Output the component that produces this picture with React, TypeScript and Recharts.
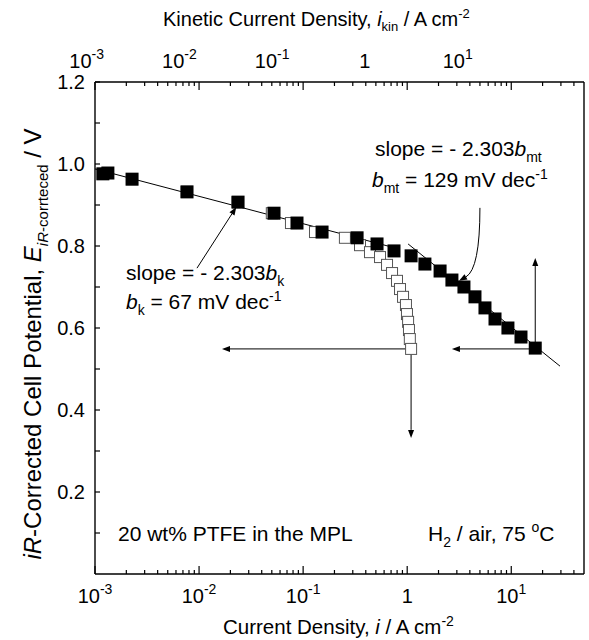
import React from 'react';
import { ComposedChart, Scatter, XAxis, YAxis, ReferenceLine } from 'recharts';

// measured (iR-corrected) polarization points, filled squares
const measuredI = [0.00119, 0.00133, 0.00227, 0.00766, 0.0237, 0.0525, 0.0873, 0.152, 0.33, 0.513, 0.747, 1.09, 1.48, 2.07, 2.69, 3.51, 4.48, 5.59, 6.98, 9.29, 12.4, 17.0];
const measuredE = [0.976, 0.978, 0.963, 0.932, 0.907, 0.88, 0.856, 0.834, 0.82, 0.805, 0.788, 0.776, 0.756, 0.739, 0.717, 0.7, 0.676, 0.649, 0.622, 0.6, 0.578, 0.551];

// kinetic current points, open squares
const kineticI = [0.00119, 0.00133, 0.00227, 0.0076, 0.0234, 0.05, 0.0764, 0.13, 0.252, 0.352, 0.439, 0.548, 0.64, 0.715, 0.798, 0.853, 0.912, 0.973, 0.995, 1.02, 1.04, 1.06, 1.09];
const kineticE = [0.976, 0.978, 0.963, 0.932, 0.907, 0.88, 0.856, 0.834, 0.82, 0.802, 0.785, 0.773, 0.754, 0.734, 0.715, 0.695, 0.676, 0.656, 0.634, 0.615, 0.595, 0.573, 0.549];

// Tafel fit lines
const kFitI = [0.001, 0.8];
const kFitE = [0.988, 0.794];
const mtFitI = [1.02, 29.4];
const mtFitE = [0.805, 0.507];

// arrows [i1, E1, i2, E2]
const arrows = [
  [0.00955, 0.746, 0.0228, 0.895],
  [1.09, 0.549, 0.0166, 0.549],
  [1.09, 0.541, 1.09, 0.332],
  [17.0, 0.549, 2.69, 0.549],
  [17.0, 0.549, 17.0, 0.771],
];
const curvedArrow = [5.0, 0.893, 3.15, 0.715];

const majorX = [0.001, 0.01, 0.1, 1, 10];
const minorX = [0.002, 0.003, 0.004, 0.005, 0.006, 0.007, 0.008, 0.009, 0.02, 0.03, 0.04, 0.05, 0.06, 0.07, 0.08, 0.09, 0.2, 0.3, 0.4, 0.5, 0.6, 0.7, 0.8, 0.9, 2, 3, 4, 5, 6, 7, 8, 9, 20, 30, 40];
const yTicks = [0.1, 0.2, 0.3, 0.4, 0.5, 0.6, 0.7, 0.8, 0.9, 1.0, 1.1, 1.2];

const FONT = "'Liberation Sans', Arial, Helvetica, sans-serif";
const W = 589;
const H = 640;
const LEFT = 95;
const RIGHT = 5;
const TOP = 82;
const BOTTOM = 66;
// top (kinetic) label scale
const KIN_LO = -2.91;
const KIN_DEC = 92.75;

const zip = (xs: number[], ys: number[]) => xs.map((i, k) => ({ i, E: ys[k] }));
const measured = zip(measuredI, measuredE);
const kinetic = zip(kineticI, kineticE);
const kFit = zip(kFitI, kFitE);
const mtFit = zip(mtFitI, mtFitE);
const allX = [...majorX, ...minorX].sort((a, b) => a - b);

const isMajor = (v: number) => majorX.some((m) => Math.abs(m - v) < m * 1e-6);

const PowLabel = ({ x, y, v }: { x: number; y: number; v: number }) => {
  const e = Math.round(Math.log10(v));
  return (
    <text x={x} y={y} textAnchor="middle" fontSize={20} fontFamily={FONT} fill="#000">
      {e === 0 ? '1' : (
        <>
          10<tspan dy={-9} fontSize={14}>{e}</tspan>
        </>
      )}
    </text>
  );
};

const BottomTick = (props: any) => {
  const { x, y, payload } = props;
  const major = isMajor(payload.value);
  return (
    <g>
      <line x1={x} y1={y} x2={x} y2={y - (major ? 8 : 4)} stroke="#000" strokeWidth={1.2} />
      {major && <PowLabel x={x} y={y + 29} v={payload.value} />}
    </g>
  );
};

const TopTick = (props: any) => {
  const { x, y, payload } = props;
  const major = isMajor(payload.value);
  const lx = LEFT + (Math.log10(payload.value) - KIN_LO) * KIN_DEC;
  return (
    <g>
      <line x1={x} y1={y} x2={x} y2={y + (major ? 8 : 4)} stroke="#000" strokeWidth={1.2} />
      {major && <PowLabel x={lx} y={y - 14} v={payload.value} />}
    </g>
  );
};

const arrowHead = (x1: number, y1: number, x2: number, y2: number) => {
  const a = Math.atan2(y2 - y1, x2 - x1);
  const L = 8;
  const w = 3;
  const bx = x2 - L * Math.cos(a);
  const by = y2 - L * Math.sin(a);
  const px = -Math.sin(a) * w;
  const py = Math.cos(a) * w;
  return { bx, by, pts: `${x2},${y2} ${bx + px},${by + py} ${bx - px},${by - py}` };
};

const ArrowShape = (p: any) => {
  const { x1, y1, x2, y2 } = p;
  const h = arrowHead(x1, y1, x2, y2);
  return (
    <g>
      <line x1={x1} y1={y1} x2={h.bx} y2={h.by} stroke="#000" strokeWidth={1} />
      <polygon points={h.pts} fill="#000" />
    </g>
  );
};

const CurvedArrowShape = (p: any) => {
  const { x1, y1, x2, y2 } = p;
  const cx = x1;
  const cy = y2 - 12;
  const h = arrowHead(cx, cy, x2, y2);
  return (
    <g>
      <path d={`M${x1},${y1} Q${cx},${cy} ${h.bx},${h.by}`} fill="none" stroke="#000" strokeWidth={1} />
      <polygon points={h.pts} fill="#000" />
    </g>
  );
};

const FilledSquare = (p: any) => <rect x={p.cx - 6.5} y={p.cy - 6.5} width={13} height={13} fill="#000" />;
const OpenSquare = (p: any) => (
  <rect x={p.cx - 5.5} y={p.cy - 5.5} width={11} height={11} fill="#fff" stroke="#555" strokeWidth={1} />
);
const NoDot = () => <g />;

const Sub = ({ children }: { children: React.ReactNode }) => <tspan dy={6} fontSize={14}>{children}</tspan>;

export default function App() {
  return (
    <div style={{ position: 'absolute', left: 0, top: 0, width: W, height: H, background: '#fff' }}>
      <ComposedChart width={W} height={H} margin={{ top: 0, right: 0, bottom: 0, left: 0 }}>
        <XAxis
          xAxisId={0}
          type="number"
          dataKey="i"
          scale="log"
          domain={[0.001, 50]}
          allowDataOverflow
          ticks={allX}
          interval={0}
          orientation="bottom"
          height={BOTTOM}
          tickLine={false}
          tickSize={0}
          tickMargin={0}
          tick={<BottomTick />}
          axisLine={{ stroke: '#000', strokeWidth: 1.4 }}
        />
        <XAxis
          xAxisId="top"
          type="number"
          dataKey="i"
          scale="log"
          domain={[0.001, 50]}
          allowDataOverflow
          ticks={allX}
          interval={0}
          orientation="top"
          height={TOP}
          tickLine={false}
          tickSize={0}
          tickMargin={0}
          tick={<TopTick />}
          axisLine={{ stroke: '#000', strokeWidth: 1.4 }}
        />
        <YAxis
          yAxisId={0}
          type="number"
          dataKey="E"
          domain={[0, 1.2]}
          allowDataOverflow
          ticks={yTicks}
          interval={0}
          width={LEFT}
          tickSize={-5}
          tickMargin={15}
          tickLine={{ stroke: '#000', strokeWidth: 1.2 }}
          axisLine={{ stroke: '#000', strokeWidth: 1.4 }}
          tick={{ fontSize: 20, fontFamily: FONT, fill: '#000' }}
          tickFormatter={(v: number) => (Math.round(v * 10) % 2 === 0 ? v.toFixed(1) : '')}
        />
        <YAxis
          yAxisId="right"
          orientation="right"
          type="number"
          dataKey="E"
          domain={[0, 1.2]}
          allowDataOverflow
          ticks={yTicks}
          interval={0}
          width={RIGHT}
          tickSize={-5}
          tick={false}
          tickLine={{ stroke: '#000', strokeWidth: 1.2 }}
          axisLine={{ stroke: '#000', strokeWidth: 1.4 }}
        />

        <Scatter data={kFit} line={{ stroke: '#000', strokeWidth: 1 }} shape={<NoDot />} isAnimationActive={false} />
        <Scatter data={mtFit} line={{ stroke: '#000', strokeWidth: 1 }} shape={<NoDot />} isAnimationActive={false} />

        {arrows.map((a, k) => (
          <ReferenceLine
            key={k}
            segment={[{ x: a[0], y: a[1] }, { x: a[2], y: a[3] }]}
            shape={ArrowShape}
            ifOverflow="visible"
          />
        ))}
        <ReferenceLine
          segment={[{ x: curvedArrow[0], y: curvedArrow[1] }, { x: curvedArrow[2], y: curvedArrow[3] }]}
          shape={CurvedArrowShape}
          ifOverflow="visible"
        />

        <Scatter data={kinetic} shape={<OpenSquare />} isAnimationActive={false} />
        <Scatter data={measured} shape={<FilledSquare />} isAnimationActive={false} />
      </ComposedChart>

      <svg
        width={W}
        height={H}
        style={{ position: 'absolute', left: 0, top: 0, pointerEvents: 'none' }}
        fontFamily={FONT}
        fill="#000"
      >
        <text x={163} y={26} fontSize={20}>
          Kinetic Current Density, <tspan fontStyle="italic">i</tspan>
          <tspan dy={5} fontSize={13}>kin</tspan>
          <tspan dy={-5}> / A cm</tspan>
          <tspan dy={-8} fontSize={13}>-2</tspan>
        </text>
        <text x={223} y={634} fontSize={20.5}>
          Current Density, <tspan fontStyle="italic">i</tspan> / A cm
          <tspan dy={-8} fontSize={14}>-2</tspan>
        </text>
        <text transform="translate(41,344) rotate(-90)" textAnchor="middle" fontSize={24}>
          <tspan fontStyle="italic">iR</tspan>-Corrected Cell Potential, <tspan fontStyle="italic">E</tspan>
          <tspan dy={7} fontSize={15}><tspan fontStyle="italic">iR</tspan>-corrteced</tspan>
          <tspan dy={-7}> / V</tspan>
        </text>

        <text x={126} y={280} fontSize={21}>
          slope = - 2.303<tspan fontStyle="italic">b</tspan><Sub>k</Sub>
        </text>
        <text x={126} y={309} fontSize={21}>
          <tspan fontStyle="italic">b</tspan><Sub>k</Sub>
          <tspan dy={-6}> = 67 mV dec</tspan>
          <tspan dy={-8} fontSize={14}>-1</tspan>
        </text>
        <text x={375} y={156} fontSize={21}>
          slope = - 2.303<tspan fontStyle="italic">b</tspan><Sub>mt</Sub>
        </text>
        <text x={372} y={187} fontSize={21}>
          <tspan fontStyle="italic">b</tspan><Sub>mt</Sub>
          <tspan dy={-6}> = 129 mV dec</tspan>
          <tspan dy={-8} fontSize={14}>-1</tspan>
        </text>
        <text x={118} y={541} fontSize={21}>20 wt% PTFE in the MPL</text>
        <text x={428} y={541} fontSize={21}>
          H<Sub>2</Sub>
          <tspan dy={-6}> / air, 75 </tspan>
          <tspan dy={-9} fontSize={14}>o</tspan>
          <tspan dy={9}>C</tspan>
        </text>
      </svg>
    </div>
  );
}
